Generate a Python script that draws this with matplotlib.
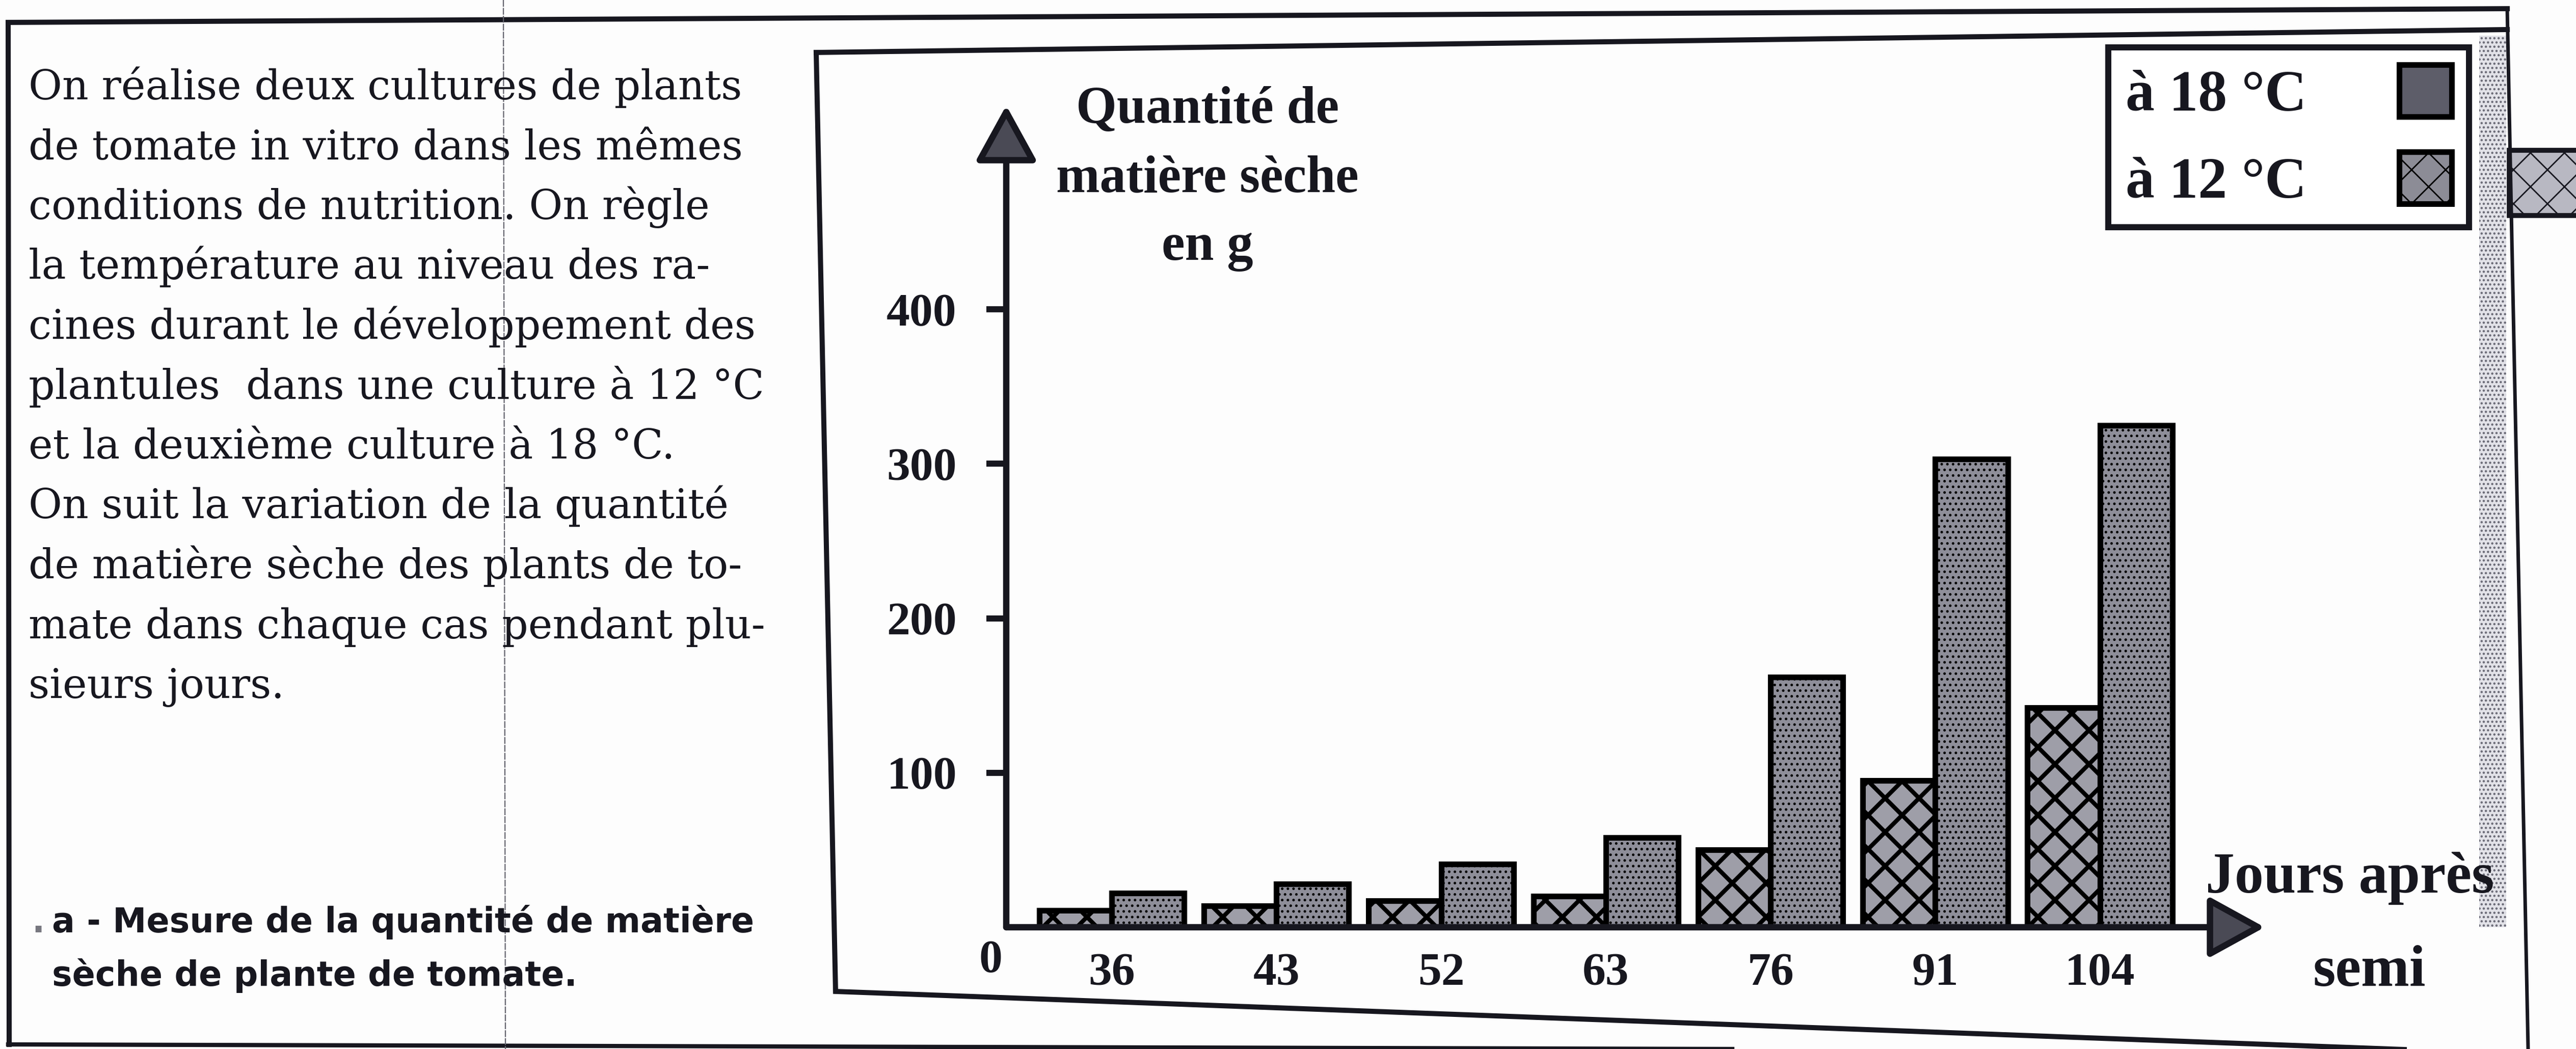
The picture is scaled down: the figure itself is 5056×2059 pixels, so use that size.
import matplotlib
matplotlib.use("Agg")
import matplotlib.pyplot as plt
from matplotlib.patches import Patch, Rectangle
import numpy as np

W, H = 5056, 2059
DPI = 200

# data
days = ["36", "43", "52", "63", "76", "91", "104"]
dry_12 = [11, 14, 17, 20, 50, 95, 142]
dry_18 = [22, 28, 41, 58, 162, 303, 325]
y_ticks = [100, 200, 300, 400]
series_labels = ["à 18 °C", "à 12 °C"]
y_title = ["Quantité de", "matière sèche", "en g"]
x_title = ["Jours après", "semi"]

paragraph = [
    "On réalise deux cultures de plants",
    "de tomate in vitro dans les mêmes",
    "conditions de nutrition. On règle",
    "la température au niveau des ra-",
    "cines durant le développement des",
    "plantules  dans une culture à 12 °C",
    "et la deuxième culture à 18 °C.",
    "On suit la variation de la quantité",
    "de matière sèche des plants de to-",
    "mate dans chaque cas pendant plu-",
    "sieurs jours.",
]
caption = ["a - Mesure de la quantité de matière", "sèche de plante de tomate."]

INK = "#17171f"
plt.rcParams["font.family"] = ["Liberation Serif", "DejaVu Serif"]
plt.rcParams["font.weight"] = "bold"
plt.rcParams["text.color"] = INK

fig = plt.figure(figsize=(W / DPI, H / DPI), dpi=DPI, facecolor="#fdfdfd")

# page layer, in pixels of the scan (y going down)
page = fig.add_axes([0, 0, 1, 1], zorder=0)
page.set_xlim(0, W)
page.set_ylim(H, 0)
page.axis("off")


def px_line(pts, lw=3.6, color=INK, **kw):
    xs, ys = zip(*pts)
    page.plot(xs, ys, color=color, lw=lw, solid_joinstyle="miter", **kw)


px_line([(16, 44), (4921, 17)])
px_line([(16, 44), (18, 2050)])
px_line([(16, 2050), (3400, 2059)], lw=3)
px_line([(4921, 17), (4962, 2059)], lw=2.5)
px_line([(1602, 103), (4921, 58)])
px_line([(1602, 103), (1640, 1946), (4962, 2069)])
px_line([(988, 0), (992, 2059)], lw=0.8, color="#62626c", ls=(0, (6, 1)))

# speckled strip at the right edge and the cut hatched square
page.add_patch(Rectangle((4866, 70), 53, 1750, fc="#e2e2e8", ec="#6a6a76",
                         lw=0, hatch="...."))
page.add_patch(Rectangle((4925, 295), 160, 128, fc="#b8b8c2", ec=INK,
                         lw=3.5, hatch="x"))

# text on the left
for i, line in enumerate(paragraph):
    page.text(56, 195 + i * 117.5, line, ha="left", va="baseline",
              fontsize=29, family="DejaVu Serif", weight="normal")
page.text(62, 1830, ".", ha="left", va="baseline", fontsize=24,
          family="DejaVu Sans", color="#77777f")
for i, line in enumerate(caption):
    page.text(102, 1830 + i * 105, line, ha="left", va="baseline",
              fontsize=24, family="DejaVu Sans", weight="bold")

# axis titles
for i, line in enumerate(y_title):
    page.text(2370, 216 + i * 135, line, ha="center", va="center", fontsize=37)
page.text(4612, 1752, x_title[0], ha="center", va="baseline", fontsize=41)
page.text(4650, 1935, x_title[1], ha="center", va="baseline", fontsize=41)

# chart
ax = fig.add_axes([1975 / W, 1 - 1820 / H, (4445 - 1975) / W, (1820 - 207) / H],
                  zorder=2)
ax.patch.set_alpha(0)
x = np.arange(len(days))
w = 0.44
with plt.rc_context({"hatch.linewidth": 3.0}):
    b12 = ax.bar(x - w / 2, dry_12, w, color="#9e9ea8", edgecolor="black",
                 lw=4, hatch="x", zorder=3)
with plt.rc_context({"hatch.linewidth": 1.0}):
    b18 = ax.bar(x + w / 2, dry_18, w, color="#8e8e99", edgecolor="black",
                 lw=4, hatch="...", zorder=3)
for bars, hlw in ((b12, 3.0), (b18, 1.0)):
    for p in bars:
        if hasattr(p, "set_hatch_linewidth"):
            p.set_hatch_linewidth(hlw)

ax.set_xlim(-0.64, 7.0)
ax.set_ylim(0, 532)
for s in ax.spines.values():
    s.set_visible(False)

arrow = dict(arrowstyle="-|>,head_length=0.4,head_width=0.22", mutation_scale=85,
             lw=4.5, ec=INK, fc="#4a4a55", shrinkA=0, shrinkB=0)
ax.annotate("", xy=(0, 1), xytext=(0, 0), xycoords="axes fraction",
            arrowprops=arrow, annotation_clip=False, zorder=4)
ax.annotate("", xy=(1, 0), xytext=(0, 0), xycoords="axes fraction",
            arrowprops=arrow, annotation_clip=False, zorder=4)

ax.set_yticks(y_ticks)
ax.tick_params(axis="y", length=14, width=4.3, pad=21, direction="out",
               labelsize=33, color=INK, labelcolor=INK)
ax.set_xticks(x, days)
ax.tick_params(axis="x", length=0, pad=18, labelsize=33, labelcolor=INK)
ax.annotate("0", xy=(0, 0), xycoords="axes fraction", xytext=(-11, -9),
            textcoords="offset points", ha="center", va="top", fontsize=33)

handles = [Patch(facecolor="#5d5d69", edgecolor="black", lw=4),
           Patch(facecolor="#8c8c96", edgecolor="black", lw=4, hatch="x")]
leg = ax.legend(handles, series_labels, loc="upper right",
                bbox_to_anchor=(4846 / W, 1 - 93 / H), bbox_transform=fig.transFigure,
                markerfirst=False, fontsize=41, fancybox=False, edgecolor=INK,
                framealpha=1, borderpad=0.3, handlelength=0.9, handleheight=1.0,
                handletextpad=1.6, labelspacing=0.5, borderaxespad=0)
leg.get_frame().set_linewidth(4.3)

fig.savefig("out.png", dpi=DPI, facecolor=fig.get_facecolor())
